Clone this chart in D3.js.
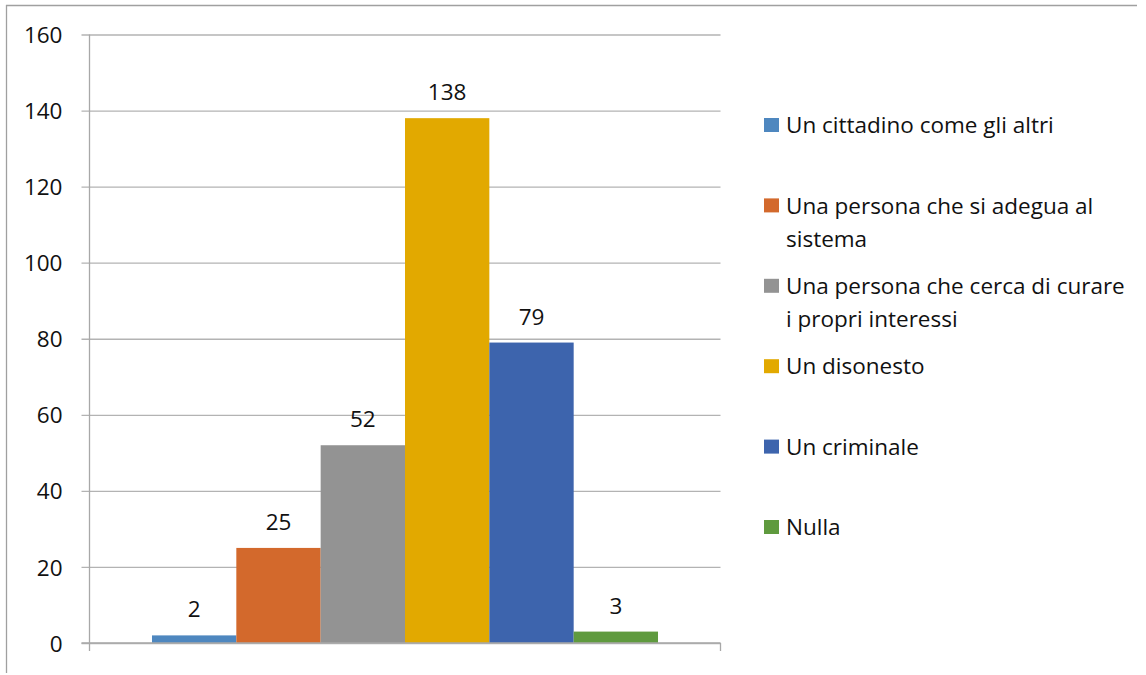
<!DOCTYPE html>
<html>
<head>
<meta charset="utf-8">
<script src="https://cdn.jsdelivr.net/npm/d3@7"></script>
<style>
  html, body { margin: 0; padding: 0; background: #fff; }
  svg { display: block; }
  text { font-family: "Open Sans", "Noto Sans", sans-serif; fill: #111; }
</style>
</head>
<body>
<svg id="chart" width="1146" height="675"></svg>
<script>
// Risposte: "Chi è un politico corrotto?"
const categories = [
  "Un cittadino come gli altri",
  "Una persona che si adegua al sistema",
  "Una persona che cerca di curare i propri interessi",
  "Un disonesto",
  "Un criminale",
  "Nulla"
];
const legendLines = [
  ["Un cittadino come gli altri"],
  ["Una persona che si adegua al", "sistema"],
  ["Una persona che cerca di curare", "i propri interessi"],
  ["Un disonesto"],
  ["Un criminale"],
  ["Nulla"]
];
const values = [2, 25, 52, 138, 79, 3];
const colors = ["#4e87bf", "#d3692c", "#939393", "#e2a900", "#3d64ad", "#5f9a3e"];
const yTicks = [0, 20, 40, 60, 80, 100, 120, 140, 160];

const FONT = "'Open Sans', 'Noto Sans', sans-serif";
const FS = "22.5px";
const svg = d3.select("#chart");

// outer frame (top and left edges)
svg.append("line").attr("x1", 6).attr("x2", 1137).attr("y1", 5.5).attr("y2", 5.5)
  .attr("stroke", "#a0a0a0").attr("stroke-width", 1.3);
svg.append("line").attr("x1", 6.5).attr("x2", 6.5).attr("y1", 5).attr("y2", 673)
  .attr("stroke", "#a0a0a0").attr("stroke-width", 1.3);

const plot = { left: 89.5, right: 720.5, top: 34.5, bottom: 643 };

const y = d3.scaleLinear().domain([0, 160]).range([plot.bottom, plot.top]);
const group = d3.scaleBand().domain(["g"]).range([plot.left, plot.right])
  .paddingOuter(0.1235).paddingInner(0);
const x = d3.scaleBand().domain(categories)
  .range([group("g"), group("g") + group.bandwidth()]).padding(0);

// gridlines with left tick marks
const yAxis = d3.axisLeft(y).tickValues(yTicks).tickSize(-(plot.right - plot.left)).tickPadding(0);
const gy = svg.append("g").attr("transform", `translate(${plot.left},0)`).call(yAxis);
gy.select(".domain").remove();
gy.selectAll(".tick line").attr("stroke", "#b3b3b3").attr("stroke-width", 1.3)
  .attr("x1", -8);
gy.selectAll(".tick text").attr("x", -27).attr("dy", "0.36em")
  .style("font-size", FS).style("font-family", FONT).attr("fill", "#111");

// vertical axis line
svg.append("line").attr("x1", plot.left).attr("x2", plot.left)
  .attr("y1", plot.top).attr("y2", plot.bottom + 8)
  .attr("stroke", "#a8a8a8").attr("stroke-width", 1.3);
// right end tick of category axis
svg.append("line").attr("x1", plot.right).attr("x2", plot.right)
  .attr("y1", plot.bottom).attr("y2", plot.bottom + 8)
  .attr("stroke", "#a8a8a8").attr("stroke-width", 1.3);

// bars
svg.append("g").selectAll("rect").data(values).join("rect")
  .attr("x", (d, i) => x(categories[i]))
  .attr("width", x.bandwidth())
  .attr("y", d => y(d))
  .attr("height", d => y(0) - y(d))
  .attr("fill", (d, i) => colors[i]);

// zero line on top of bars
svg.append("line").attr("x1", plot.left - 8).attr("x2", plot.right)
  .attr("y1", plot.bottom).attr("y2", plot.bottom)
  .attr("stroke", "#a8a8a8").attr("stroke-width", 1.3);

// value labels
svg.append("g").selectAll("text").data(values).join("text")
  .attr("x", (d, i) => x(categories[i]) + x.bandwidth() / 2)
  .attr("y", d => y(d) - 18)
  .attr("text-anchor", "middle")
  .style("font-size", FS)
  .text(d => d);

// legend
const legend = svg.append("g");
const legendTop = 125, legendStep = 80.4, lineGap = 33;
legendLines.forEach((lines, i) => {
  const cy = legendTop + i * legendStep;
  legend.append("rect").attr("x", 764).attr("y", cy - 7).attr("width", 15).attr("height", 14)
    .attr("fill", colors[i]);
  lines.forEach((t, j) => {
    legend.append("text").attr("x", 786).attr("y", cy + j * lineGap).attr("dy", "0.36em")
      .style("font-size", FS).text(t);
  });
});
</script>
</body>
</html>
